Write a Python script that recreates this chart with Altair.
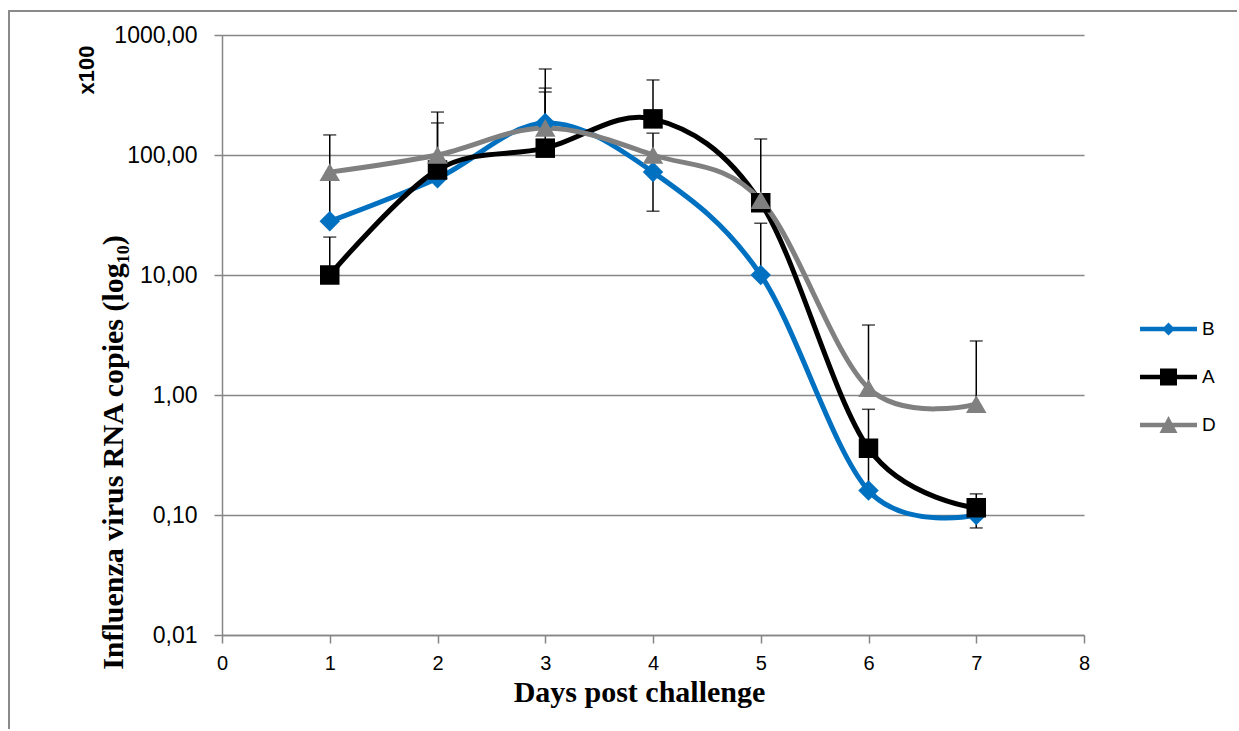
import altair as alt
import pandas as pd

# ---------------- data ----------------
days = [1, 2, 3, 4, 5, 6, 7]
series_names = ["B", "A", "D"]
series_colors = ["#0070C0", "#000000", "#808080"]

b_vals = [28, 64, 185, 72, 10, 0.16, 0.10]
a_vals = [10, 75, 114, 200, 40, 0.36, 0.115]
d_vals = [72, 100, 168, 100, 42, 1.14, 0.84]

# error bar ends (upper / lower); equal to the value where no bar is drawn
b_err_hi = [62, 64, 521, 72, 27, 0.33, 0.10]
b_err_lo = [28, 64, 185, 34, 10, 0.16, 0.078]
a_err_hi = [20.7, 185, 335, 422, 136, 0.76, 0.15]
a_err_lo = [10, 75, 114, 200, 40, 0.36, 0.115]
d_err_hi = [147, 228, 361, 152, 42, 3.83, 2.82]
d_err_lo = [72, 100, 168, 100, 42, 1.14, 0.84]

y_ticks = [0.01, 0.1, 1, 10, 100, 1000]
x_ticks = [0, 1, 2, 3, 4, 5, 6, 7, 8]

# ---------------- tables ----------------
rows = []
caps = []
for name, vals, hi, lo in [
    ("B", b_vals, b_err_hi, b_err_lo),
    ("A", a_vals, a_err_hi, a_err_lo),
    ("D", d_vals, d_err_hi, d_err_lo),
]:
    for d, v, h, l in zip(days, vals, hi, lo):
        rows.append({"series": name, "day": d, "value": v, "hi": h, "lo": l})
        if h != v:
            caps.append({"series": name, "day": d, "cap": h})
        if l != v:
            caps.append({"series": name, "day": d, "cap": l})
df = pd.DataFrame(rows)
caps_df = pd.DataFrame(caps)

GRID = "#868686"

xscale = alt.Scale(domain=[0, 8], nice=False, zero=False)
yscale = alt.Scale(type="log", domain=[0.01, 1000], nice=False)
cscale = alt.Scale(domain=series_names, range=series_colors)

legend_paths = [
    "M-2.85,-0.22L2.85,-0.22L2.85,0.22L-2.85,0.22Z M0,-0.65L0.65,0L0,0.65L-0.65,0Z",
    "M-2.85,-0.22L2.85,-0.22L2.85,0.22L-2.85,0.22Z M-0.85,-0.85L0.85,-0.85L0.85,0.85L-0.85,0.85Z",
    "M-2.85,-0.22L2.85,-0.22L2.85,0.22L-2.85,0.22Z M0,-0.9L0.9,0.8L-0.9,0.8Z",
]

x_axis = alt.Axis(
    values=x_ticks, format="d", title="Days post challenge",
    titleFont="Liberation Serif", titleFontSize=30, titleFontWeight="bold",
    titleColor="black", titleX=417, titleY=66, titleAlign="center",
    titleBaseline="alphabetic", titleAngle=0,
    labelFont="Liberation Sans Narrow, Liberation Sans", labelFontSize=20,
    labelColor="black", labelPadding=10, labelFlush=False, labelOverlap=False,
    tickSize=8, tickColor=GRID, tickWidth=1.5,
    domainColor=GRID, domainWidth=1.5, grid=False,
)
y_axis = alt.Axis(
    values=y_ticks, labelExpr="replace(format(datum.value, '.2f'), '.', ',')",
    title="Influenza virus RNA copies (log\u2081\u2080)",
    titleFont="Liberation Serif", titleFontSize=30, titleFontWeight="bold",
    titleColor="black", titleX=-100, titleY=417, titleAngle=270,
    titleAlign="center", titleBaseline="alphabetic",
    labelFont="Liberation Sans", labelFontSize=23, labelColor="black",
    labelPadding=17, labelFlush=False, labelOverlap=False,
    tickSize=8, tickColor=GRID, tickWidth=1.5,
    domainColor=GRID, domainWidth=1.5,
    grid=True, gridColor=GRID, gridWidth=1.5,
)

base = alt.Chart(df)

X = alt.X("day:Q", scale=xscale, axis=x_axis)
Y = alt.Y("value:Q", scale=yscale, axis=y_axis)

# canvas: 1237 x 729, plot origin at (222, 35)
one = pd.DataFrame({"k": [0]})
frame_left = alt.Chart(one).mark_rule(stroke="#8a8a8a", strokeWidth=2).encode(
    x=alt.value(-213), y=alt.value(-25), y2=alt.value(694),
)
frame_top = alt.Chart(one).mark_rule(stroke="#8a8a8a", strokeWidth=2).encode(
    x=alt.value(-214), x2=alt.value(1015), y=alt.value(-24),
)

x100 = alt.Chart(one).mark_text(
    text="x100", angle=270, font="Liberation Sans", fontSize=22,
    fontWeight="bold", align="center", baseline="middle", color="black"
).encode(x=alt.value(87 - 222), y=alt.value(70 - 35))

legend_def = alt.Legend(
    title=None, orient="none", legendX=936.5, legendY=284,
    symbolSize=400, symbolStrokeWidth=0, symbolOpacity=1,
    labelFont="Liberation Sans", labelFontSize=19, labelColor="black",
    labelOffset=23.5, rowPadding=28, padding=0,
)

legend_carrier = base.transform_filter(alt.datum.day < 0).mark_point(
    filled=True, size=400, opacity=1
).encode(
    x=alt.X("day:Q", scale=xscale, axis=x_axis),
    y=alt.Y("value:Q", scale=yscale, axis=y_axis),
    color=alt.Color("series:N", scale=cscale, legend=legend_def),
    shape=alt.Shape(
        "series:N", scale=alt.Scale(domain=series_names, range=legend_paths),
        legend=legend_def,
    ),
)

err = base.mark_rule(color="black", strokeWidth=1.5).encode(
    x=alt.X("day:Q", scale=xscale),
    y=alt.Y("lo:Q", scale=yscale),
    y2="hi:Q",
)
capm = alt.Chart(caps_df).mark_tick(
    orient="horizontal", size=13, thickness=1.5, color="black"
).encode(
    x=alt.X("day:Q", scale=xscale),
    y=alt.Y("cap:Q", scale=yscale),
)

lines = base.mark_line(interpolate="cardinal", strokeWidth=5).encode(
    x=X, y=Y, color=alt.Color("series:N", scale=cscale, legend=None),
    order="day:Q",
)

def pts(name, shape, size):
    return base.transform_filter(alt.datum.series == name).mark_point(
        shape=shape, filled=True, size=size, opacity=1
    ).encode(
        x=alt.X("day:Q", scale=xscale),
        y=alt.Y("value:Q", scale=yscale),
        color=alt.Color("series:N", scale=cscale, legend=None),
    )

pB = pts("B", "diamond", 420)
pA = pts("A", "square", 380)
pD = pts("D", "triangle-up", 420)

chart = alt.layer(
    frame_left, frame_top, x100, legend_carrier, err, capm, lines, pB, pA, pD
).properties(
    width=862, height=600,
    autosize=alt.AutoSizeParams(type="none"),
    padding={"left": 222, "top": 35, "right": 153, "bottom": 94},
    background="white",
).configure_view(strokeWidth=0).configure_legend(
    labelFontSize=19, labelFont="Liberation Sans", labelColor="black"
)

chart.save("out.html", embed_options={"renderer": "svg", "actions": False})
